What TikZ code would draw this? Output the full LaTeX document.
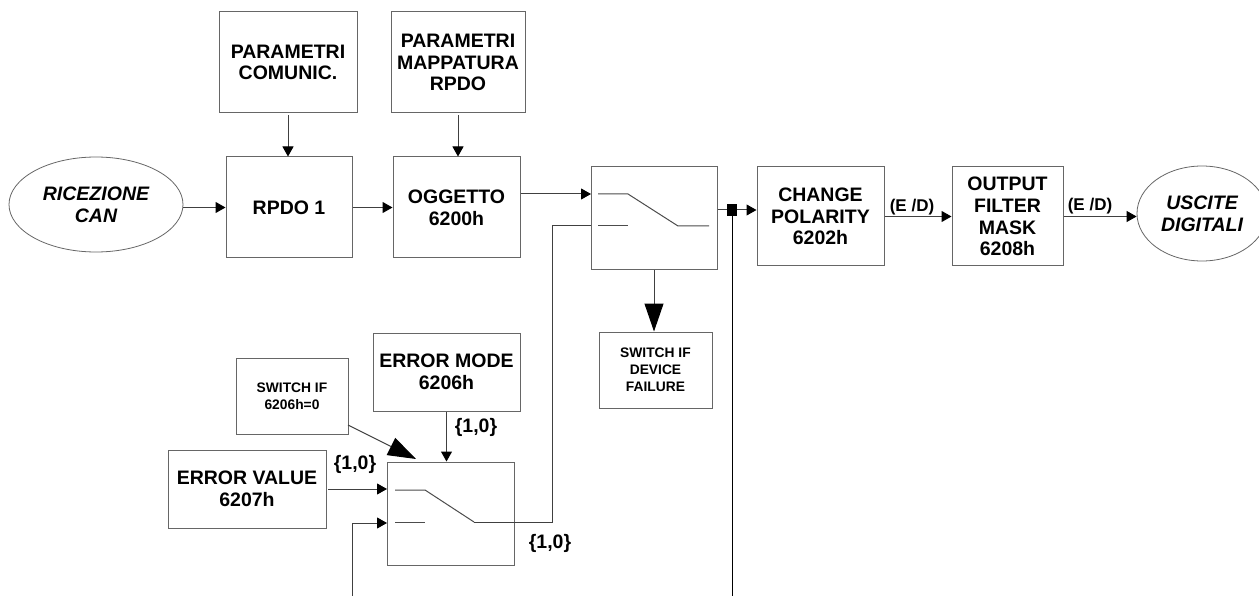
\documentclass[tikz,border=0pt]{standalone}
\usepackage{fontspec}
\setmainfont{Liberation Sans}
\usetikzlibrary{arrows.meta,shapes.geometric}
\begin{document}
\begin{tikzpicture}[x=1pt,y=-1pt,
  box/.style={draw=black!60, line width=1pt, align=center, inner sep=0pt, font=\fontsize{19.5}{21.7}\selectfont\bfseries},
  smallbox/.style={box, font=\fontsize{13.8}{17}\selectfont\bfseries},
  ell/.style={ellipse, draw=black!60, line width=0.8pt, align=center, inner sep=0pt, font=\fontsize{19.5}{21.7}\selectfont\bfseries\itshape},
  conn/.style={draw=black!75, line width=1pt},
  contact/.style={draw=black!70, line width=1pt},
  arr/.style={conn, -{Triangle[length=10pt,width=11pt,color=black]}},
  bigarr/.style={conn, -{Triangle[length=28pt,width=19pt,color=black]}},
  lbl/.style={font=\fontsize{19.5}{21.7}\selectfont\bfseries, inner sep=0pt},
  edlbl/.style={font=\fontsize{17}{20}\selectfont\bfseries, inner sep=0pt}
]
\useasboundingbox (0,0) rectangle (1259,596);
\fill[white] (0,0) rectangle (1259,596);

% top parameter boxes
\node[box, minimum width=138pt, minimum height=101pt] (comm) at (288,62.5) {PARAMETRI\\COMUNIC.};
\node[box, minimum width=134pt, minimum height=101pt] (map) at (458,62.5) {PARAMETRI\\MAPPATURA\\RPDO};

% main chain
\node[ell, minimum width=174pt, minimum height=95pt] (ric) at (96,204.5) {RICEZIONE\\CAN};
\node[box, minimum width=126pt, minimum height=101pt] (rpdo) at (289,207.5) {RPDO 1};
\node[box, minimum width=127pt, minimum height=101pt] (ogg) at (456.5,207.5) {OGGETTO\\6200h};
\node[box, minimum width=126pt, minimum height=103pt] (sw1) at (654,218.5) {};
\node[fill=black, minimum width=10pt, minimum height=12pt, inner sep=0pt] (sq) at (732,210) {};
\node[box, minimum width=127pt, minimum height=99pt] (chg) at (820.5,216.5) {CHANGE\\POLARITY\\6202h};
\node[box, minimum width=111pt, minimum height=99pt] (out) at (1007.5,216.5) {OUTPUT\\FILTER\\MASK\\6208h};
\node[ell, minimum width=130pt, minimum height=95pt] (usc) at (1202,213.5) {USCITE\\DIGITALI};

% lower part
\node[smallbox, minimum width=113pt, minimum height=76pt] (fail) at (655.5,370) {SWITCH IF\\DEVICE\\FAILURE};
\node[box, minimum width=147pt, minimum height=78pt] (emode) at (446.5,372) {ERROR MODE\\6206h};
\node[box, minimum width=127pt, minimum height=103pt] (sw2) at (450.5,513.5) {};
\node[box, minimum width=158pt, minimum height=78pt] (evalue) at (247,489) {ERROR VALUE\\6207h};
\node[smallbox, minimum width=112pt, minimum height=76pt] (sif) at (292,396) {SWITCH IF\\6206h=0};

% coordinates
\coordinate (sw1in1) at (591,194);
\coordinate (sw1in2) at (591,226);
\coordinate (sw2in1) at (387,490);
\coordinate (sw2in2) at (387,523);
\coordinate (bot1) at (732,596);
\coordinate (bot2) at (352,596);
\coordinate (sifout) at (348,425);
\coordinate (sw2tip) at (416,459);

% switch contacts
\draw[contact] (598,194) -- (628,194) -- (678,226) -- (709,226);
\draw[contact] (598,226) -- (628,226);
\draw[contact] (395,490) -- (425,490) -- (474,522);
\draw[contact] (395,522) -- (425,522);

% connectors
\draw[arr] (comm.south) ++(0,2) -- (comm.south |- rpdo.north);
\draw[arr] (map.south) ++(0,2) -- (map.south |- ogg.north);
\draw[arr] (rpdo.west -| ric.east) -- (rpdo.west);
\draw[arr] (rpdo.east) -- (ogg.west);
\draw[arr] (ogg.east |- sw1in1) -- (sw1in1);
\draw[conn] (sw1.east |- sq) -- (sq.west);
\draw[arr] (sq.east) -- (sq.east -| chg.west);
\draw[draw=black, line width=1pt] (sq.south) -- (bot1);
\draw[bigarr] (sw1.south) -- (sw1.south |- fail.north);
\draw[arr] (chg.east) -- (out.west);
\draw[arr] (out.east) -- (out.east -| usc.west);
\draw[arr] (emode.south) -- (emode.south |- sw2.north);
\draw[bigarr] (sifout) -- (sw2tip);
\draw[arr] (evalue.east -| 328,0) -- (evalue.east -| sw2in1);
\draw[arr] (bot2) |- (sw2in2);
\draw[conn] (474,522) -- (552,522) -- (552,226) -- (sw1in2);

% labels
\node[lbl] (l1) at (476,427) {\{1,0\}};
\node[lbl] (l2) at (355,464) {\{1,0\}};
\node[lbl] (l3) at (550,543) {\{1,0\}};
\node[edlbl] (e1) at (912,207) {(E /D)};
\node[edlbl] (e2) at (1090,206) {(E /D)};
\end{tikzpicture}
\end{document}
